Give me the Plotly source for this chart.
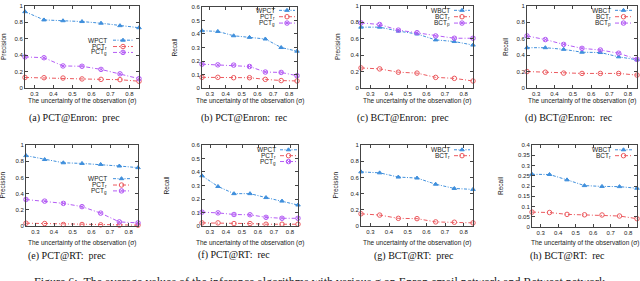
import plotly.graph_objects as go

# ---------------- data ----------------
sigma = [0.25, 0.35, 0.45, 0.55, 0.65, 0.75, 0.85]
x_ticks = [0.3, 0.4, 0.5, 0.6, 0.7, 0.8]

# (a) PCT@Enron: prec
a_wpct = [0.93, 0.83, 0.82, 0.81, 0.79, 0.76, 0.735]
a_pctr = [0.13, 0.127, 0.123, 0.112, 0.107, 0.103, 0.084]
a_pctg = [0.38, 0.37, 0.27, 0.266, 0.228, 0.174, 0.115]
# (b) PCT@Enron: rec
b_wpct = [0.424, 0.419, 0.387, 0.375, 0.363, 0.300, 0.273]
b_pctr = [0.080, 0.080, 0.077, 0.077, 0.065, 0.056, 0.053]
b_pctg = [0.177, 0.172, 0.170, 0.160, 0.119, 0.116, 0.092]
# (c) BCT@Enron: prec
c_wbct = [0.742, 0.742, 0.694, 0.659, 0.587, 0.567, 0.524]
c_bctr = [0.246, 0.234, 0.194, 0.183, 0.131, 0.119, 0.087]
c_bctp = [0.794, 0.774, 0.706, 0.675, 0.635, 0.607, 0.607]
# (d) BCT@Enron: rec
d_wbct = [0.492, 0.492, 0.472, 0.437, 0.433, 0.381, 0.345]
d_bctr = [0.202, 0.194, 0.183, 0.179, 0.179, 0.179, 0.159]
d_bctp = [0.635, 0.591, 0.532, 0.484, 0.464, 0.425, 0.350]
# (e) PCT@RT: prec
e_wpct = [0.868, 0.820, 0.780, 0.772, 0.760, 0.740, 0.720]
e_pctr = [0.036, 0.032, 0.020, 0.020, 0.016, 0.012, 0.012]
e_pctg = [0.328, 0.308, 0.280, 0.240, 0.160, 0.052, 0.040]
# (f) PCT@RT: rec
f_wpct = [0.372, 0.293, 0.240, 0.240, 0.211, 0.185, 0.156]
f_pctr = [0.024, 0.024, 0.019, 0.019, 0.014, 0.014, 0.014]
f_pctg = [0.103, 0.098, 0.086, 0.084, 0.065, 0.058, 0.058]
# (g) BCT@RT: prec
g_wbct = [0.668, 0.656, 0.604, 0.592, 0.516, 0.464, 0.452]
g_bctr = [0.152, 0.136, 0.096, 0.092, 0.052, 0.048, 0.040]
# (h) BCT@RT: rec
h_wbct = [0.257, 0.256, 0.230, 0.202, 0.198, 0.197, 0.189]
h_bctr = [0.073, 0.071, 0.062, 0.060, 0.059, 0.054, 0.041]

# ---------------- styles ----------------
W, H = 640, 281
BLUE, RED, PURPLE = "#3f8fdc", "#ec5a5f", "#b45cf5"
STY = {
    "w": dict(color=BLUE, dash="3px,1.5px,1px,1.5px", symbol="triangle-up", size=4),
    "r": dict(color=RED, dash="4px,2px,1px,2px", symbol="circle-open", size=4.5),
    "g": dict(color=PURPLE, dash="4px,2px,1px,2px", symbol="circle-x-open", size=4.5),
}

panels = [
    dict(box=(25, 139, 3, 87), yr=[0, 1], dt=0.2, yl="Precision", ylx=3,
         cap="(a) PCT@Enron:  prec", capxy=(74, 118), xty=100,
         series=[("w", "WPCT", a_wpct), ("r", "PCT<sub>r</sub>", a_pctr), ("g", "PCT<sub>g</sub>", a_pctg)],
         leg=(109, 113, 133, [38, 44.5, 50.5])),
    dict(box=(202, 297, 4, 87), yr=[0, 0.6], dt=0.1, yl="Recall", ylx=175,
         cap="(b) PCT@Enron:  rec", capxy=(244, 118), xty=100,
         series=[("w", "WPCT", b_wpct), ("r", "PCT<sub>r</sub>", b_pctr), ("g", "PCT<sub>g</sub>", b_pctg)],
         leg=(277, 279, 295, [7.5, 14, 20.5])),
    dict(box=(361, 473, 3, 87), yr=[0, 1], dt=0.2, yl="Precision", ylx=337,
         cap="(c) BCT@Enron:  prec", capxy=(403, 118), xty=100,
         series=[("w", "WBCT", c_wbct), ("r", "BCT<sub>r</sub>", c_bctr), ("g", "BCT<sub>p</sub>", c_bctp)],
         leg=(452, 454, 470, [7.5, 14, 20.5])),
    dict(box=(527, 637, 3, 87), yr=[0, 1], dt=0.2, yl="Recall", ylx=505,
         cap="(d) BCT@Enron:  rec", capxy=(569, 118), xty=100,
         series=[("w", "WBCT", d_wbct), ("r", "BCT<sub>r</sub>", d_bctr), ("g", "BCT<sub>p</sub>", d_bctp)],
         leg=(613, 615, 632, [7.5, 14, 20.5])),
    dict(box=(26, 138, 145, 228), yr=[0, 1], dt=0.2, yl="Precision", ylx=3,
         cap="(e) PCT@RT:  prec", capxy=(67, 259), xty=245,
         series=[("w", "WPCT", e_wpct), ("r", "PCT<sub>r</sub>", e_pctr), ("g", "PCT<sub>g</sub>", e_pctg)],
         leg=(109, 113, 130, [179.5, 186, 192])),
    dict(box=(202, 298, 145, 228), yr=[0, 0.6], dt=0.1, yl="Recall", ylx=167,
         cap="(f) PCT@RT:  rec", capxy=(234, 258), xty=245,
         series=[("w", "WPCT", f_wpct), ("r", "PCT<sub>r</sub>", f_pctr), ("g", "PCT<sub>g</sub>", f_pctg)],
         leg=(278, 280, 297, [150, 156, 162])),
    dict(box=(361, 473, 145, 228), yr=[0, 1], dt=0.2, yl="Precision", ylx=336,
         cap="(g) BCT@RT:  prec", capxy=(414, 259), xty=245,
         series=[("w", "WBCT", g_wbct), ("r", "BCT<sub>r</sub>", g_bctr)],
         leg=(452, 454, 470, [150, 156])),
    dict(box=(532, 637, 145, 229), yr=[0, 0.4], dt=0.05, yl="Recall", ylx=500,
         cap="(h) BCT@RT:  rec", capxy=(567, 259), xty=245,
         series=[("w", "WBCT", h_wbct), ("r", "BCT<sub>r</sub>", h_bctr)],
         leg=(613, 615, 632, [150, 156])),
]

fig = go.Figure()
annotations = []
SANS = "Liberation Sans"
SERIF = "Liberation Serif"
XR = [0.25, 0.85]

for i, p in enumerate(panels):
    n = "" if i == 0 else str(i + 1)
    xa, ya = "x" + n, "y" + n
    x0, x1, y0, y1 = p["box"]
    yr = p["yr"]
    axis_common = dict(showgrid=False, zeroline=False, showline=True, linecolor="#444",
                       linewidth=1, mirror="allticks", ticks="inside", ticklen=3,
                       tickcolor="#444", tickfont=dict(family=SANS, size=6, color="#222"))
    fig.layout["xaxis" + n] = dict(domain=[x0 / W, x1 / W], range=XR, anchor=ya,
                                   tickvals=x_ticks, ticktext=[str(v) for v in x_ticks],
                                   **axis_common)
    fig.layout["yaxis" + n] = dict(domain=[1 - y1 / H, 1 - y0 / H], range=yr, anchor=xa,
                                   dtick=p["dt"], tick0=0, **axis_common)

    def to_data(px, py):
        dx = XR[0] + (px - x0) / (x1 - x0) * (XR[1] - XR[0])
        dy = yr[0] + (y1 - py) / (y1 - y0) * (yr[1] - yr[0])
        return dx, dy

    tx, lx0, lx1, rows = p["leg"]
    for (k, name, vals), ry in zip(p["series"], rows):
        s = STY[k]
        fig.add_trace(go.Scatter(
            x=sigma, y=vals, xaxis=xa, yaxis=ya, mode="lines+markers", cliponaxis=False,
            line=dict(color=s["color"], width=1, dash=s["dash"]),
            marker=dict(symbol=s["symbol"], size=s["size"], color=s["color"],
                        line=dict(color=s["color"], width=1)),
            showlegend=False, hoverinfo="skip"))
        # legend sample
        ax0, ay = to_data(lx0, ry)
        ax1, _ = to_data(lx1, ry)
        fig.add_trace(go.Scatter(
            x=[ax0, ax1], y=[ay, ay], xaxis=xa, yaxis=ya, mode="lines", cliponaxis=False,
            line=dict(color=s["color"], width=1, dash=s["dash"]), showlegend=False, hoverinfo="skip"))
        fig.add_trace(go.Scatter(
            x=[(ax0 + ax1) / 2], y=[ay], xaxis=xa, yaxis=ya, mode="markers", cliponaxis=False,
            marker=dict(symbol=s["symbol"], size=s["size"], color=s["color"],
                        line=dict(color=s["color"], width=1)),
            showlegend=False, hoverinfo="skip"))
        annotations.append(dict(x=tx / W, y=1 - ry / H, xref="paper", yref="paper",
                                text=name, showarrow=False, xanchor="right", yanchor="middle",
                                font=dict(family=SANS, size=6.5, color="#222")))

    # axis titles
    annotations.append(dict(x=(x0 + x1) / 2 / W, y=1 - p["xty"] / H, xref="paper", yref="paper",
                            text="The uncertainty of the observation (σ)", showarrow=False,
                            xanchor="center", yanchor="middle",
                            font=dict(family=SANS, size=6.5, color="#222")))
    annotations.append(dict(x=p["ylx"] / W, y=1 - (y0 + y1) / 2 / H, xref="paper", yref="paper",
                            text=p["yl"], showarrow=False, textangle=-90,
                            xanchor="center", yanchor="middle",
                            font=dict(family=SANS, size=6.5, color="#222")))
    # caption
    cx, cy = p["capxy"]
    annotations.append(dict(x=cx / W, y=1 - cy / H, xref="paper", yref="paper",
                            text=p["cap"], showarrow=False, xanchor="center", yanchor="middle",
                            font=dict(family=SERIF, size=10, color="#111")))

annotations.append(dict(x=32 / W, y=1 - 285 / H, xref="paper", yref="paper",
                        text="Figure 6:  The average values of the inference algorithms with various σ on Enron email network and Retweet network",
                        showarrow=False, xanchor="left", yanchor="middle",
                        font=dict(family=SERIF, size=12, color="#222")))

fig.update_layout(width=W, height=H, margin=dict(l=0, r=0, t=0, b=0),
                  paper_bgcolor="white", plot_bgcolor="white",
                  annotations=annotations, showlegend=False)

fig.write_html("out.html", config={"displayModeBar": False},
               post_script="document.body.style.margin='0px';document.body.style.overflow='hidden';")
